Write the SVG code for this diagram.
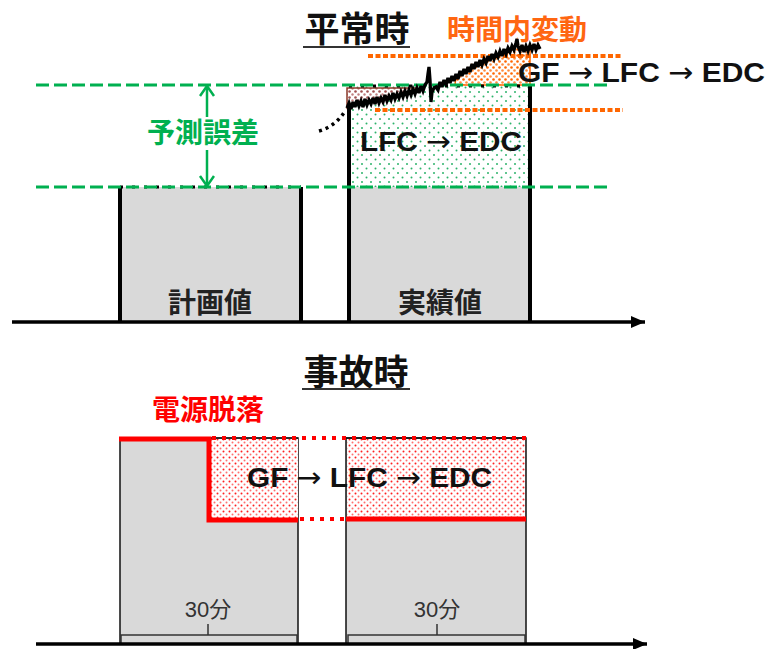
<svg xmlns="http://www.w3.org/2000/svg" width="771" height="649" viewBox="0 0 771 649">
<defs>
<style>
.jp{font-family:"Noto Sans CJK JP","Noto Sans CJK SC",sans-serif;font-weight:bold}
.lat{font-family:"Liberation Sans","Noto Sans CJK JP",sans-serif;font-weight:bold;fill:#111}
.arr{font-family:"DejaVu Sans",sans-serif;font-weight:normal}
.gray{fill:#D9D9D9}
.gdash{stroke:#00B050;stroke-width:3;stroke-dasharray:13 5;fill:none}
.bdots{stroke:#000;stroke-width:3;stroke-dasharray:3 9;fill:none}
.side{stroke:#000;stroke-width:4;fill:none}
.odot{stroke:#FF6600;stroke-width:4;stroke-dasharray:5 2.5;fill:none}
.red{stroke:#FF0000;stroke-width:5;fill:none}
.rdot{stroke:#FF0000;stroke-width:4;stroke-dasharray:4 6;fill:none}
.thin{stroke:#333;stroke-width:1.5;fill:none}
.axis{stroke:#000;stroke-width:3.5;fill:none}
.garrow{stroke:#00B050;stroke-width:2.5;fill:none}
.small{font-family:"Liberation Sans","Noto Sans CJK JP",sans-serif;font-size:22px;fill:#333}
</style>
<pattern id="pRed" width="6" height="6" patternUnits="userSpaceOnUse"><rect width="6" height="6" fill="#fff"/><circle cx="1.5" cy="1.5" r="1" fill="#FF2020"/><circle cx="4.5" cy="4.5" r="1" fill="#FF7070"/></pattern>
<pattern id="pGreen" width="9" height="9" patternUnits="userSpaceOnUse"><rect width="9" height="9" fill="#fff"/><circle cx="2" cy="2" r="1" fill="#2DB36B"/><circle cx="6.5" cy="6.5" r="1" fill="#2DB36B"/></pattern>
<pattern id="pOrange" width="6" height="6" patternUnits="userSpaceOnUse"><rect width="6" height="6" fill="#fff"/><circle cx="1.5" cy="1.5" r="1.3" fill="#FF6600"/><circle cx="4.5" cy="4.5" r="1.3" fill="#FF8C40"/></pattern>
<pattern id="pBrown" width="6" height="6" patternUnits="userSpaceOnUse"><rect width="6" height="6" fill="#fff"/><circle cx="1.5" cy="1.5" r="1.3" fill="#A05050"/><circle cx="4.5" cy="4.5" r="1.2" fill="#C08080"/></pattern>
<marker id="ah" markerUnits="userSpaceOnUse" markerWidth="15" markerHeight="12" refX="14" refY="6" orient="auto"><path d="M0,0 L14,6 L0,12 Z" fill="#000"/></marker>
<marker id="gh" markerUnits="userSpaceOnUse" markerWidth="14" markerHeight="18" refX="12" refY="8" orient="auto"><path d="M2,1 L12,8 L2,15" fill="none" stroke="#00B050" stroke-width="2.5"/></marker>
</defs>
<rect width="771" height="649" fill="#fff"/>

<!-- ========== 平常時 ========== -->
<g id="title-normal">
<text class="jp" x="357" y="42" font-size="35" text-anchor="middle" fill="#111">平常時</text>
<line x1="303" y1="47" x2="410" y2="47" stroke="#333" stroke-width="2"/>
</g>

<g id="block-plan">
<rect class="gray" x="120" y="187" width="181" height="135"/>
<line class="bdots" x1="120" y1="187" x2="301" y2="187"/>
<line class="side" x1="120" y1="187" x2="120" y2="322"/>
<line class="side" x1="301" y1="187" x2="301" y2="322"/>
<text class="jp" x="210" y="313" font-size="28" text-anchor="middle" fill="#222">計画値</text>
</g>

<g id="block-actual">
<rect class="gray" x="349" y="187" width="181" height="135"/>
<rect x="349" y="86" width="181" height="101" fill="url(#pGreen)"/>
<polygon points="455,85 456,76 458,78 460,72 462,75 464,70 466,73 468,68 470,71 472,65 474,68 476,63 478,66 480,61 482,64 484,60 486,62 488,57 490,60 492,55 494,58 496,54 498,56 500,52 502,55 504,50 506,53 508,49 510,51 512,47 514,49 516,43 517,40 518,45 520,50 522,46 524,51 526,47 528,50 530,46 530,85" fill="url(#pOrange)" stroke="#FF6600" stroke-width="1.5"/>
<polygon points="347,88 417,88 417,89 415,93 413,90 411,94 409,91 407,95 405,92 403,96 401,93 399,97 397,95 395,98 393,94 391,99 389,97 387,100 385,96 383,101 381,99 379,102 377,98 375,103 373,99 371,103 369,101 367,104 365,100 363,106 361,102 359,105 357,101 355,106 353,103 351,108 349,104 347,107" fill="url(#pBrown)" stroke="#8B3A2A" stroke-width="1.5"/>
<line class="bdots" x1="349" y1="86" x2="530" y2="86"/>
<line class="side" x1="349" y1="106" x2="349" y2="322"/>
<line class="side" x1="530" y1="84" x2="530" y2="322"/>
<text class="jp" x="440" y="313" font-size="28" text-anchor="middle" fill="#222">実績値</text>
<text class="lat" x="360" y="151" font-size="28" textLength="162" lengthAdjust="spacingAndGlyphs">LFC <tspan class="arr">→</tspan> EDC</text>
</g>

<g id="forecast-error">
<line class="gdash" x1="36" y1="85" x2="612" y2="85"/>
<line class="gdash" x1="36" y1="187" x2="612" y2="187"/>
<text class="jp" x="203" y="143" font-size="28" text-anchor="middle" fill="#00B050">予測誤差</text>
</g>

<g id="intra-variation">
<line class="odot" x1="368" y1="56" x2="622" y2="56"/>
<line class="odot" x1="375" y1="110" x2="623" y2="110"/>
<path d="M319,131 Q336,126 345,111" fill="none" stroke="#000" stroke-width="3.5" stroke-dasharray="3 4"/>
<polyline points="347,108 349,103 351,109 353,102 355,107 357,100 359,106 361,101 363,107 365,99 367,105 369,100 371,104 373,98 375,104 377,97 379,103 381,98 383,102 385,95 387,101 389,96 391,100 393,93 395,99 397,94 399,98 401,92 403,97 405,91 407,96 409,90 411,95 413,89 415,94 417,88 419,93 421,86 423,91 425,85 427,82 428,74 429,67 430,80 431,102 432,92 434,88 436,87 438,90 440,82 442,87 444,80 446,85 448,78 450,83 452,76 454,81 456,74 458,79 460,71 462,76 464,69 466,74 468,67 470,72 472,64 474,69 476,62 478,67 480,60 482,65 484,59 486,63 488,56 490,61 492,54 494,59 496,53 498,57 500,51 502,56 504,49 506,54 508,48 510,52 512,46 514,50 516,43 517,39 518,46 520,51 522,45 524,52 526,46 528,51 530,45 532,50 534,44 536,50 538,45 540,49" fill="none" stroke="#000" stroke-width="3.3" stroke-linejoin="miter" stroke-miterlimit="3"/>
<text class="jp" x="517" y="40" font-size="28" text-anchor="middle" fill="#FF6611">時間内変動</text>
<text class="lat" x="518" y="82" font-size="28" textLength="247" lengthAdjust="spacingAndGlyphs">GF <tspan class="arr">→</tspan> LFC <tspan class="arr">→</tspan> EDC</text>
</g>

<!-- ========== 事故時 ========== -->
<g id="title-fault">
<text class="jp" x="356" y="385" font-size="35" text-anchor="middle" fill="#111">事故時</text>
<line x1="302" y1="389" x2="410" y2="389" stroke="#333" stroke-width="2"/>
</g>

<g id="block-fault-left">
<rect class="gray" x="120" y="438" width="178" height="206" stroke="#111" stroke-width="1.5"/>
<rect x="209" y="439" width="89" height="81" fill="url(#pRed)"/>
<line x1="209" y1="438" x2="298" y2="438" stroke="#111" stroke-width="1.2"/>
<text class="jp" x="208" y="420" font-size="28" text-anchor="middle" fill="#FF0000">電源脱落</text>
</g>

<g id="block-fault-right">
<rect class="gray" x="346" y="438" width="180" height="206" stroke="#111" stroke-width="1.5"/>
<rect x="347" y="439" width="178" height="80" fill="url(#pRed)"/>
<line x1="346" y1="438" x2="526" y2="438" stroke="#111" stroke-width="1.5"/>
<line class="red" x1="346" y1="519" x2="526" y2="519"/>
</g>

<g id="fault-response">
<polyline class="red" points="119,439 209,439 209,520 298,520"/>
<line class="rdot" x1="212" y1="438" x2="526" y2="438" stroke-width="3"/>
<line class="rdot" x1="300" y1="519" x2="346" y2="519"/>
<text class="lat" x="247" y="487" font-size="28" textLength="245" lengthAdjust="spacingAndGlyphs">GF <tspan class="arr">→</tspan> LFC <tspan class="arr">→</tspan> EDC</text>
</g>

<g id="duration-left">
<path class="thin" d="M121,643 L121,635 L297,635 L297,643 M208,635 L208,624"/>
<text class="small" x="208" y="617" text-anchor="middle">30分</text>
</g>
<g id="duration-right">
<path class="thin" d="M348,643 L348,635 L525,635 L525,643 M437,635 L437,624"/>
<text class="small" x="437" y="617" text-anchor="middle">30分</text>
</g>

<g id="connectors">
<line class="axis" x1="12" y1="322" x2="645" y2="322" marker-end="url(#ah)"/>
<line class="axis" x1="36" y1="644" x2="647" y2="644" marker-end="url(#ah)"/>
<line class="garrow" x1="207" y1="117" x2="207" y2="86" marker-end="url(#gh)"/>
<line class="garrow" x1="207" y1="150" x2="207" y2="186" marker-end="url(#gh)"/>
</g>
</svg>
